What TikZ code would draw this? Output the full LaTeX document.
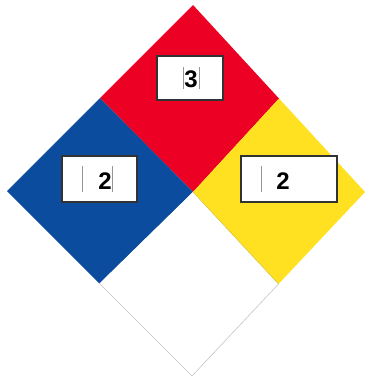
\documentclass[tikz,border=0pt]{standalone}
\usepackage{fontspec}
\setmainfont{Liberation Sans}
\usetikzlibrary{calc}
\definecolor{nfpared}{RGB}{236,0,36}
\definecolor{nfpablue}{RGB}{12,76,158}
\definecolor{nfpayellow}{RGB}{255,225,33}
\definecolor{boxedge}{RGB}{50,50,50}
\definecolor{cursorgray}{RGB}{150,150,150}
\begin{document}
\begin{tikzpicture}[x=1pt,y=-1pt,
  ratingbox/.style={draw=boxedge,line width=1.1pt,fill=white},
  digit/.style={font=\fontsize{24}{24}\selectfont\bfseries,inner sep=0pt},
  cursor/.style={draw=cursorgray,line width=0.8pt}]
\useasboundingbox (0,0) rectangle (368,379);
% corners
\coordinate (T) at (193,5);
\coordinate (L) at (7,191);
\coordinate (R) at (365,192);
\coordinate (B) at (192,376);
\coordinate (C) at (193,192);
\coordinate (TL) at ($(T)!0.5!(L)$);
\coordinate (TR) at ($(T)!0.5!(R)$);
\coordinate (BL) at ($(B)!0.5!(L)$);
\coordinate (BR) at ($(B)!0.5!(R)$);
% quadrants
\fill[nfpared] (T) -- (TR) -- (C) -- (TL) -- cycle;
\fill[nfpablue] (L) -- (TL) -- (C) -- (BL) -- cycle;
\fill[nfpayellow] (R) -- (TR) -- (C) -- (BR) -- cycle;
\fill[white] (B) -- (BL) -- (C) -- (BR) -- cycle;
\draw[gray!45,line width=0.6pt] (BL) -- (B) -- (BR);
\draw[nfpayellow!80!black,line width=0.4pt] (C) -- (BR);
% rating boxes
\node[ratingbox,minimum width=66pt,minimum height=44pt,inner sep=0pt] (health) at (190,78) {};
\node[ratingbox,minimum width=75pt,minimum height=46pt,inner sep=0pt] (flam) at (99.5,179) {};
\node[ratingbox,minimum width=96pt,minimum height=46pt,inner sep=0pt] (react) at (289,179) {};
% digits
\node[digit] (d3) at (191,79.5) {3};
\node[digit] (d2a) at (105,181) {2};
\node[digit] (d2b) at (283,181) {2};
% cursor bars
\draw[cursor] (183,67) -- (183,89);
\draw[cursor] (199,67) -- (199,89);
\draw[cursor] (82,166) -- (82,192);
\draw[cursor] (112.5,166) -- (112.5,192);
\draw[cursor] (261,166) -- (261,192);
\end{tikzpicture}
\end{document}
